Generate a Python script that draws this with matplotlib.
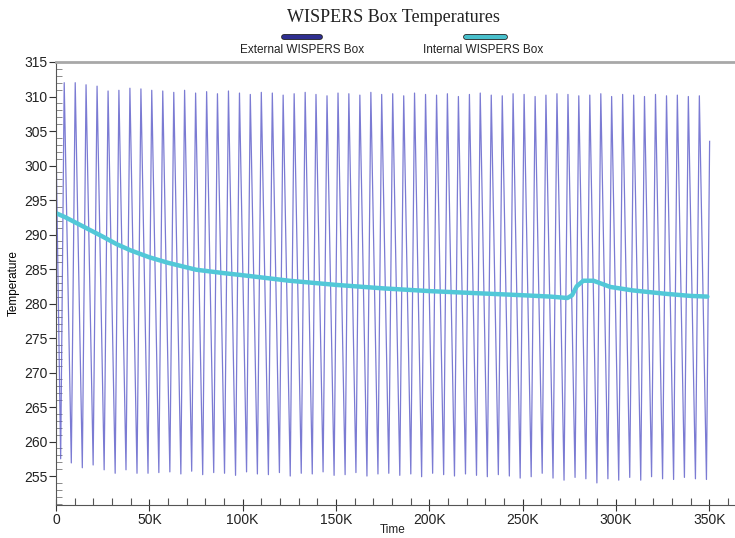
import matplotlib
matplotlib.use("Agg")
from matplotlib import pyplot as plt
from matplotlib.lines import Line2D
from matplotlib.ticker import FuncFormatter, MultipleLocator
import matplotlib.patheffects as pe

# External WISPERS Box: start, peak/trough per cycle (time in K seconds), end
ext_start_t = [0.2, 2.5]
ext_start_v = [300.0, 257.5]
ext_end = (350.2, 303.5)
peak_t = [4.4, 10.3, 16.1, 22.0, 27.9, 33.7, 39.6, 45.5, 51.3, 57.2,
          63.1, 68.9, 74.8, 80.7, 86.5, 92.4, 98.3, 104.1, 110.0, 115.9,
          121.7, 127.6, 133.5, 139.3, 145.2, 151.1, 156.9, 162.8, 168.7, 174.5,
          180.4, 186.3, 192.1, 198.0, 203.9, 209.7, 215.6, 221.5, 227.3, 233.2,
          239.1, 244.9, 250.8, 256.7, 262.5, 268.4, 274.3, 280.1, 286.0, 291.9,
          297.7, 303.6, 309.5, 315.3, 321.2, 327.1, 332.9, 338.8, 344.7]
peak_v = [312.0, 312.0, 311.7, 311.5, 310.8, 310.9, 311.2, 311.1, 310.9, 310.8,
          310.6, 310.9, 310.5, 310.7, 310.4, 310.8, 310.5, 310.3, 310.6, 310.5,
          310.2, 310.4, 310.6, 310.3, 310.1, 310.5, 310.4, 310.2, 310.6, 310.3,
          310.4, 310.1, 310.5, 310.3, 310.2, 310.4, 310.0, 310.3, 310.5, 310.2,
          310.1, 310.4, 310.3, 310.0, 310.2, 310.4, 310.3, 310.1, 310.2, 310.4,
          310.0, 310.3, 310.2, 310.0, 310.3, 310.1, 310.2, 310.0, 310.1]
trough_t = [8.2, 14.1, 19.9, 25.8, 31.7, 37.5, 43.4, 49.3, 55.1, 61.0,
            66.9, 72.7, 78.6, 84.5, 90.3, 96.2, 102.1, 107.9, 113.8, 119.7,
            125.5, 131.4, 137.3, 143.1, 149.0, 154.9, 160.7, 166.6, 172.5, 178.3,
            184.2, 190.1, 195.9, 201.8, 207.7, 213.5, 219.4, 225.3, 231.1, 237.0,
            242.9, 248.7, 254.6, 260.5, 266.3, 272.2, 278.1, 283.9, 289.8, 295.7,
            301.5, 307.4, 313.3, 319.1, 325.0, 330.9, 336.7, 342.6, 348.5]
trough_v = [256.9, 256.2, 256.6, 255.9, 255.4, 255.9, 255.4, 255.4, 255.5, 255.6,
            255.3, 255.7, 255.2, 255.5, 255.4, 255.1, 255.6, 255.3, 255.2, 255.5,
            255.0, 255.4, 255.3, 255.6, 255.1, 255.2, 255.5, 255.0, 255.3, 255.4,
            255.1, 255.3, 254.9, 255.4, 255.2, 255.0, 255.3, 255.1, 254.9, 255.2,
            255.0, 254.7, 254.9, 255.4, 254.7, 254.4, 254.8, 254.6, 254.0, 254.6,
            254.4, 254.8, 254.4, 254.9, 254.6, 254.5, 254.8, 254.6, 254.5]

# Internal WISPERS Box
int_t = [0, 5, 10, 15, 20, 25, 32.5, 40, 50, 60, 75, 90, 100, 125, 150, 175,
         200, 225, 250, 265, 274, 276.5, 279, 282.5, 288, 292, 297, 309, 327, 340, 349]
int_v = [293.1, 292.5, 291.8, 291.1, 290.4, 289.7, 288.6, 287.7, 286.7, 285.9,
         284.9, 284.4, 284.1, 283.3, 282.7, 282.2, 281.8, 281.5, 281.2, 281.0,
         280.8, 281.2, 282.5, 283.3, 283.3, 282.9, 282.4, 281.9, 281.4, 281.1, 281.0]

ext_color = "#5a5ac8"
int_color = "#52c8d8"

# build external series from the read extremes
ext_x = list(ext_start_t)
ext_y = list(ext_start_v)
for pt, pv, tt, tv in zip(peak_t, peak_v, trough_t, trough_v):
    ext_x += [pt, tt]
    ext_y += [pv, tv]
ext_x.append(ext_end[0])
ext_y.append(ext_end[1])
ext_x = [t * 1000 for t in ext_x]
int_x = [t * 1000 for t in int_t]

plt.rcParams["font.family"] = ["Liberation Sans", "DejaVu Sans"]

fig = plt.figure(figsize=(7.35, 5.38), dpi=100)
ax = fig.add_axes([56 / 735, 1 - 505 / 538, 1 - 56 / 735, (505 - 62) / 538])

ax.plot(ext_x, ext_y, color=ext_color, linewidth=0.9, alpha=0.8)
ax.plot(int_x, int_v, color=int_color, linewidth=3.2, solid_capstyle="round")

ax.set_xlim(0, 363800)
ax.set_ylim(250.8, 315)

ax.xaxis.set_major_locator(MultipleLocator(50000))
ax.xaxis.set_minor_locator(MultipleLocator(10000))
ax.xaxis.set_major_formatter(FuncFormatter(lambda v, p: "0" if v == 0 else "{:d}K".format(int(v / 1000))))
ax.yaxis.set_minor_locator(MultipleLocator(1))
ax.set_yticks(range(255, 316, 5))

ax.tick_params(axis="x", which="major", direction="inout", length=9, width=0.8,
               labelsize=10, pad=1, colors="#333333")
ax.tick_params(axis="x", which="minor", direction="in", length=5, width=0.8, colors="#555555")
ax.tick_params(axis="y", which="major", direction="out", length=5, width=0.8,
               labelsize=10, pad=1, colors="#333333")
ax.tick_params(axis="y", which="minor", direction="in", length=4, width=0.6, colors="#777777")
for lbl in ax.get_xticklabels() + ax.get_yticklabels():
    lbl.set_color("#222222")

ax.spines["right"].set_visible(False)
ax.spines["top"].set_color("#a8a8a8")
ax.spines["top"].set_linewidth(2)
ax.spines["left"].set_color("#555555")
ax.spines["bottom"].set_color("#555555")

fig.text(393 / 735, 1 - 530 / 538, "Time", ha="center", va="center", fontsize=8.5, color="#222222")
ax.set_ylabel("Temperature", fontsize=8.5, labelpad=3)

fig.text(393 / 735, 1 - 18 / 538, "WISPERS Box Temperatures", ha="center", va="center",
         family="Liberation Serif", fontsize=13, color="#222222")

# legend entries: short bar above the name
for cx, lx0, lx1, col, name in [(302, 284, 320, "#2e2e90", "External WISPERS Box"),
                                (483, 466, 505, "#48c0cc", "Internal WISPERS Box")]:
    ln = Line2D([lx0 / 735, lx1 / 735], [1 - 37 / 538] * 2, transform=fig.transFigure,
                color=col, linewidth=3, solid_capstyle="round",
                path_effects=[pe.Stroke(linewidth=4.2, foreground="#222222"), pe.Normal()])
    fig.add_artist(ln)
    fig.text(cx / 735, 1 - 50 / 538, name, ha="center", va="center",
             fontsize=8.5, color="#222222")

plt.savefig("out.png", dpi=100)
